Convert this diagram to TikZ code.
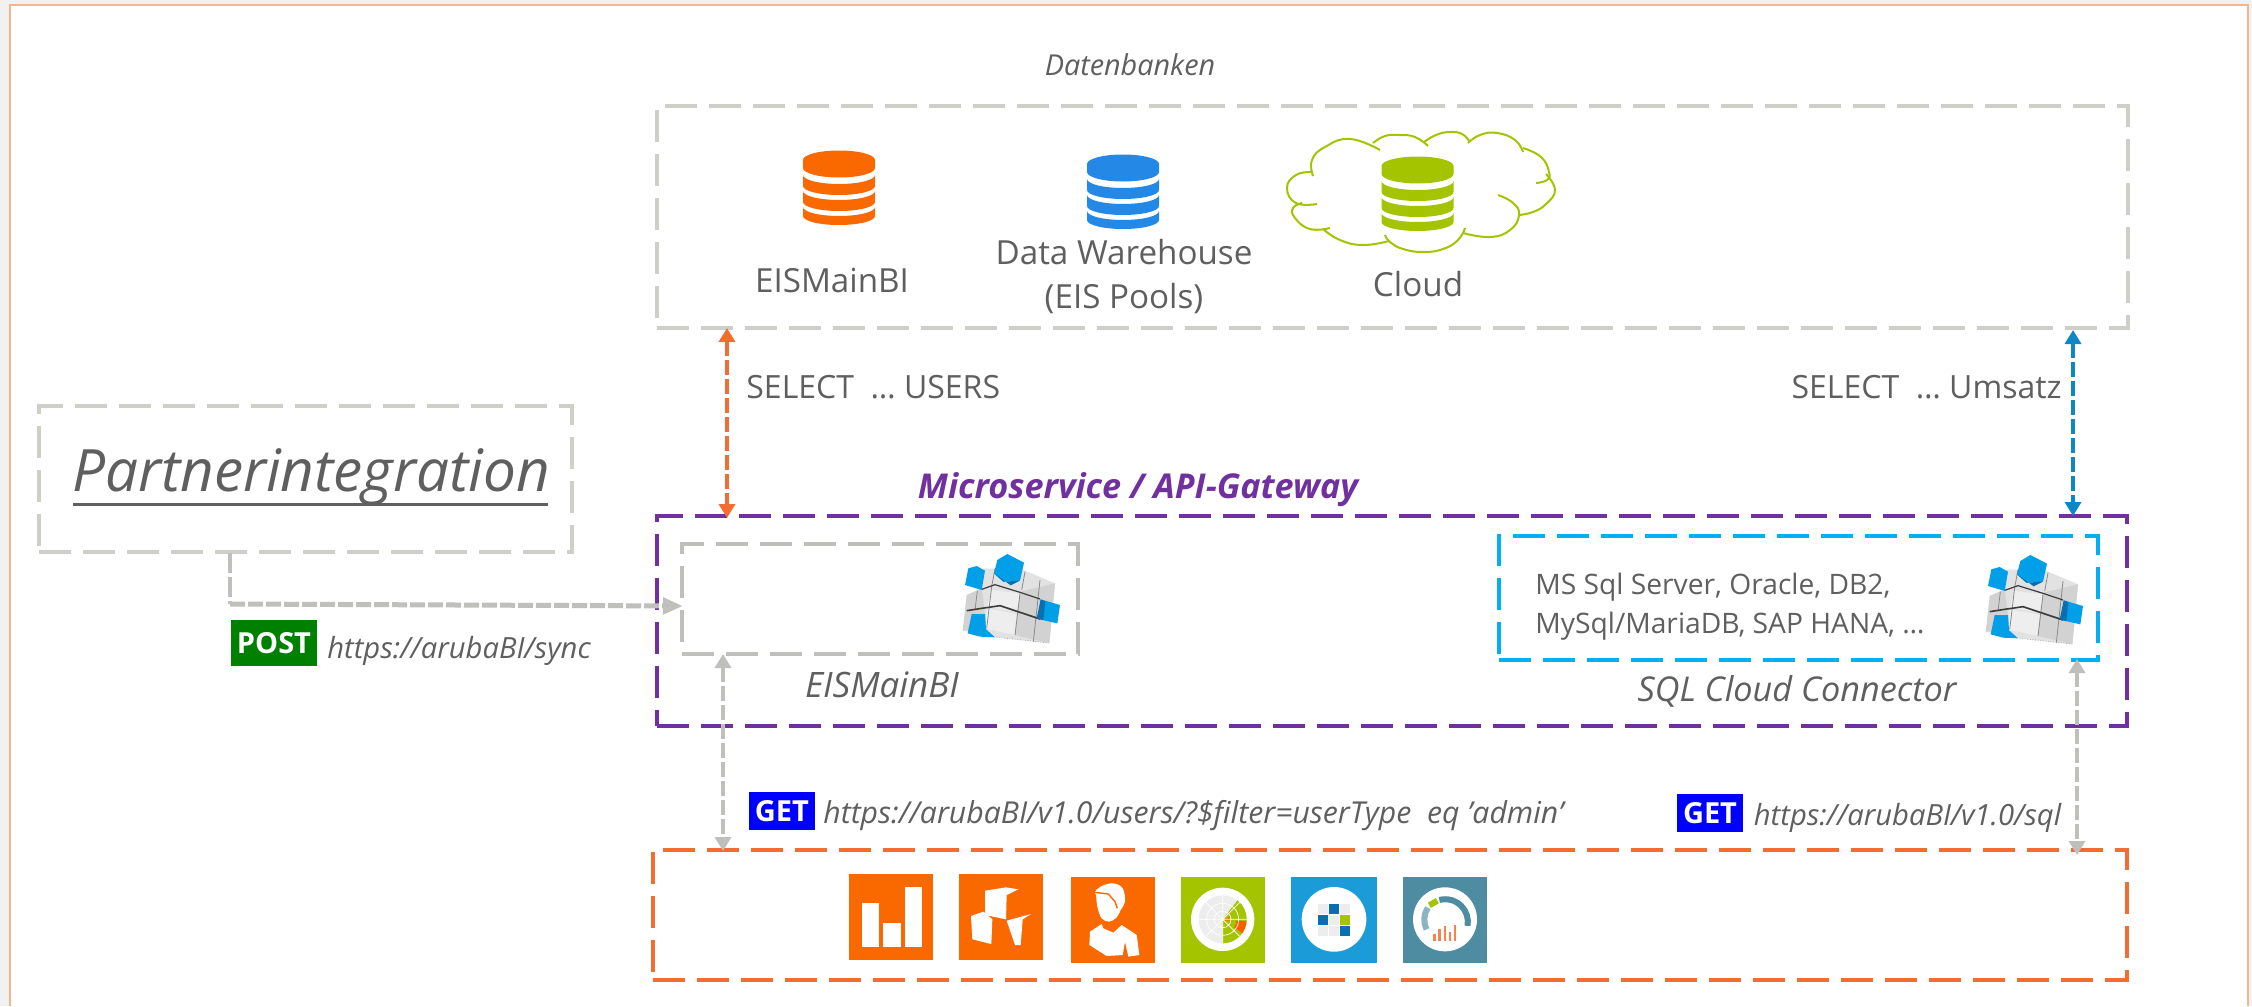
\documentclass[tikz,border=0pt]{standalone}
\usepackage{fontspec}
\setmainfont{Open Sans}
\usetikzlibrary{arrows.meta}
\definecolor{txtgray}{HTML}{5F5F5F}
\definecolor{boxgray}{HTML}{CFCFCA}
\definecolor{midgray}{HTML}{BFBFBC}
\definecolor{purp}{HTML}{7030A0}
\definecolor{cyanb}{HTML}{00B0F0}
\definecolor{orangeb}{HTML}{F36C31}
\definecolor{bluearrow}{HTML}{0F86C6}
\definecolor{tileorange}{HTML}{FA6800}
\definecolor{tilegreen}{HTML}{A4C400}
\definecolor{tileblue}{HTML}{1B9CD9}
\definecolor{tileteal}{HTML}{4E8DA1}
\definecolor{dbblue}{HTML}{2388E6}
\definecolor{cubeblue}{HTML}{009FE8}
\definecolor{cubedark}{HTML}{0A6FB0}
\definecolor{cubegray}{HTML}{E2E2E2}
\definecolor{cubeside}{HTML}{D2D2D2}
\definecolor{cubeline}{HTML}{3C3C3C}
\definecolor{pale}{HTML}{EDEDED}
\definecolor{framec}{HTML}{F8B48A}
\tikzset{
  dashbox/.style={draw, line width=2pt, dash pattern=on 16pt off 6pt, inner sep=0pt},
  graybox/.style={dashbox, draw=boxgray, line width=1.8pt},
  lbl/.style={text=txtgray, inner sep=0pt, font=\fontsize{16.6}{20}\selectfont},
  url/.style={lbl, anchor=west, font=\fontsize{14.6}{18}\selectfont\itshape},
  badge/.style={text=white, inner sep=0pt, font=\fontsize{14.5}{18}\selectfont\bfseries},
  dbl/.style={line width=1.8pt, dash pattern=on 7.5pt off 2pt, {Triangle[length=7pt,width=8pt]}-{Triangle[length=7pt,width=8pt]}},
  zu/.style={x=0.166667pt, y=-0.166667pt},
  tile/.style={inner sep=0pt, minimum width=42pt, minimum height=43pt},
  cubepic/.pic={
    \begin{scope}[zu]
      \fill[cubegray] (190,85)--(310,90)--(405,130)--(388,310)--(230,292)--(128,272)--(140,210)--(140,165)--(185,145)--cycle;
      \fill[cubeside] (300,155)--(405,130)--(388,310)--(285,285)--cycle;
      \fill[cubeside] (128,272)--(140,165)--(185,145)--(200,265)--cycle;
      \fill[cubegray!60!white] (215,150)--(300,160)--(290,215)--(200,200)--cycle;
      \fill[cubegray!60!white] (200,205)--(290,222)--(283,285)--(195,265)--cycle;
      \draw[cubeline!60!white, line width=0.4pt] (215,140)--(200,265) (300,160)--(285,285) (360,120)--(340,305) (172,152)--(165,210) (315,95)--(305,150) (225,85)--(215,140);
      \draw[cubeline, line width=0.8pt] (140,212)--(185,205)--(240,197)--(300,217)--(360,237);
      \draw[cubeline, line width=0.6pt] (185,148)--(225,134)--(300,157)--(360,177);
      \draw[cubeline!60!white, line width=0.3pt, densely dotted] (230,292)--(380,308);
      \fill[cubeblue] (145,85)--(170,78)--(195,92)--(185,150)--(135,135)--cycle;
      \fill[cubeblue] (262,42)--(312,68)--(300,122)--(250,125)--(222,100)--(232,60)--cycle;
      \fill[cubedark] (222,100)--(250,125)--(300,122)--(272,136)--cycle;
      \fill[cubeblue] (362,178)--(420,195)--(412,250)--(358,238)--cycle;
      \fill[cubedark] (362,178)--(376,184)--(370,240)--(350,235)--cycle;
      \fill[cubeblue] (155,222)--(195,222)--(198,268)--(225,292)--(180,290)--(143,280)--cycle;
    \end{scope}
  },
  pics/dbicon/.style={code={
      \fill[#1] (-36,9) arc[x radius=36, y radius=9.5, start angle=180, end angle=360] -- (36,17) arc[x radius=36, y radius=9.5, start angle=0, end angle=180] -- cycle;
      \fill[#1] (-36,24) arc[x radius=36, y radius=9, start angle=180, end angle=0] -- (36,35) arc[x radius=36, y radius=9, start angle=0, end angle=180] -- cycle;
      \fill[#1] (-36,40) arc[x radius=36, y radius=9, start angle=180, end angle=0] -- (36,51) arc[x radius=36, y radius=9, start angle=0, end angle=180] -- cycle;
      \fill[#1] (-36,56) arc[x radius=36, y radius=9, start angle=180, end angle=0] -- (36,65) arc[x radius=36, y radius=9, start angle=0, end angle=180] -- cycle;
  }},
}
\begin{document}
\begin{tikzpicture}[x=0.5pt,y=-0.5pt]
\useasboundingbox (0,0) rectangle (2252,1006);
% page frame
\fill[pale!80!white] (0,0) rectangle (2252,1006);
\fill[white] (10,5) rectangle (2248,1006);
\draw[draw=framec, line width=1.2pt] (10,1006) -- (10,5) -- (2248,5) -- (2248,1006);

% containers
\node[graybox, minimum width=735.5pt, minimum height=111pt] (dbs) at (1392.5,217) {};
\node[graybox, minimum width=266.5pt, minimum height=73pt] (partner) at (305.5,479) {};
\node[dashbox, draw=purp, minimum width=735pt, minimum height=105pt] (ms) at (1392,621) {};
\node[dashbox, draw=midgray, minimum width=198pt, minimum height=55pt] (eis) at (880,599) {};
\node[dashbox, draw=cyanb, minimum width=299.5pt, minimum height=62pt] (sql) at (1798.5,598) {};
\node[dashbox, draw=orangeb, minimum width=737pt, minimum height=65pt] (clients) at (1390,915) {};

% labels
\node[lbl, font=\fontsize{14.4}{17}\selectfont\itshape] (dbtitle) at (1130,65) {Datenbanken};
\node[lbl] (l1) at (832,280) {EISMainBI};
\node[lbl, align=center, font=\fontsize{16.6}{22}\selectfont] (l2) at (1124,277) {Data Warehouse\\(EIS Pools)};
\node[lbl] (l3) at (1418,284) {Cloud};
\node[lbl, anchor=west, font=\fontsize{16}{20}\selectfont] (s1) at (746,387) {SELECT \ … USERS};
\node[lbl, anchor=east, font=\fontsize{16}{20}\selectfont] (s2) at (2062,387) {SELECT \ … Umsatz};
\node[lbl, font=\fontsize{17.1}{20}\selectfont\bfseries\itshape, text=purp] (mstitle) at (1138,490) {Microservice / API-Gateway};
\node[lbl, font=\fontsize{29.2}{34}\selectfont\itshape] (ptext) at (311,477) {Partnerintegration};
\draw[txtgray, line width=1.5pt] (73,504) -- (548,504);
\node[lbl, font=\fontsize{17.5}{20}\selectfont\itshape] (eisl) at (882,685) {EISMainBI};
\node[lbl, font=\fontsize{17.1}{20}\selectfont\itshape] (sqll) at (1797,691) {SQL Cloud Connector};
\node[lbl, anchor=west, align=left, font=\fontsize{14.1}{19.5}\selectfont] (sqlt) at (1535,606.5) {MS Sql Server, Oracle, DB2,\\MySql/MariaDB, SAP HANA, …};

% badges
\node[badge, fill=green!50!black, minimum width=43pt, minimum height=23pt] (post) at (274,643) {POST};
\node[url] (posturl) at (327,651) {https://arubaBI/sync};
\node[badge, fill=blue, minimum width=33pt, minimum height=19pt] (get1) at (782,811) {GET};
\node[url, font=\fontsize{15.1}{18}\selectfont\itshape] (get1url) at (823,816) {https://arubaBI/v1.0/users/?\$filter=userType \ eq 'admin'};
\node[badge, fill=blue, minimum width=33pt, minimum height=19pt] (get2) at (1710,813) {GET};
\node[url] (get2url) at (1753.5,818) {https://arubaBI/v1.0/sql};

% connectors
\coordinate (a1t) at (727,328);
\coordinate (a1b) at (727,518);
\coordinate (a2t) at (2073,330);
\coordinate (a2b) at (2073,516);
\coordinate (a3t) at (723,654);
\coordinate (a3b) at (723,851);
\coordinate (a4t) at (2077,659);
\coordinate (a4b) at (2077,855);
\coordinate (p1) at (230,553);
\coordinate (p2) at (230,604);
\coordinate (p3) at (683,606);
\draw[orangeb, dbl] (a1t) -- (a1b);
\draw[bluearrow, dbl] (a2t) -- (a2b);
\draw[midgray, dbl] (a3t) -- (a3b);
\draw[midgray, dbl] (a4t) -- (a4b);
\draw[midgray, line width=1.8pt, dash pattern=on 10pt off 2pt] (p1) -- (p2);
\draw[midgray, line width=2.5pt, dash pattern=on 7.5pt off 1.5pt, -{Triangle[length=10pt,width=8pt]}] (p2) -- (p3);

% database icons
\pic at (839,151) {dbicon=tileorange};
\pic at (1123,155) {dbicon=dbblue};
\pic at (1417.5,157) {dbicon=tilegreen};

% cloud
\begin{scope}[tilegreen, line width=1pt]
\draw plot[smooth, tension=0.8] coordinates {(1317,204) (1296,203) (1287,188) (1296,175) (1312,172)};
\draw plot[smooth, tension=0.8] coordinates {(1313,176) (1312,160) (1325,147) (1350,139) (1380,150)};
\draw plot[smooth, tension=0.8] coordinates {(1373,143) (1385,136) (1399,135) (1415,137) (1428,146)};
\draw plot[smooth, tension=0.8] coordinates {(1424,142) (1436,135) (1450,132) (1462,134) (1469,141)};
\draw plot[smooth, tension=0.8] coordinates {(1468,143) (1480,135) (1497,133) (1515,140) (1523,152)};
\draw plot[smooth, tension=0.8] coordinates {(1523,148) (1541,157) (1549,172) (1547,180) (1536,183)};
\draw plot[smooth, tension=0.8] coordinates {(1546,174) (1555,190) (1546,204) (1533,212) (1519,215)};
\draw plot[smooth, tension=0.8] coordinates {(1498,195) (1513,203) (1519,215) (1510,230) (1490,237) (1463,233)};
\draw plot[smooth, tension=0.8] coordinates {(1465,228) (1458,240) (1443,249) (1423,252) (1403,249) (1390,242) (1385,235)};
\draw plot[smooth, tension=0.8] coordinates {(1389,241) (1363,245) (1340,240) (1323,229)};
\draw plot[smooth, tension=0.8] coordinates {(1330,228) (1310,229) (1295,218) (1293,208) (1302,203)};
\end{scope}

% cubes
\pic at (920,540) {cubepic};
\pic at (1943,541) {cubepic};

% tiles
\node[tile, fill=tileorange] (t1) at (891,917) {};
\node[tile, fill=tileorange] (t2) at (1001,917) {};
\node[tile, fill=tileorange] (t3) at (1113,920) {};
\node[tile, fill=tilegreen] (t4) at (1223,920) {};
\node[tile, fill=tileblue, minimum width=43pt] (t5) at (1334,920) {};
\node[tile, fill=tileteal] (t6) at (1445,920) {};

\begin{scope}[shift={(830,860)}, zu]
  \fill[white] (95,130) rectangle (148,262);
  \fill[white] (160,188) rectangle (212,262);
  \fill[white] (226,80) rectangle (276,262);
  \fill[white] (465,92)--(528,82)--(565,88)--(530,105)--(528,178)--(465,165)--cycle;
  \fill[white] (423,168)--(460,155)--(487,178)--(484,252)--(427,238)--cycle;
  \fill[white] (530,182)--(603,162)--(578,178)--(572,255)--(555,255)--cycle;
  % person
  \fill[white] plot[smooth cycle, tension=0.6] coordinates {(795,95) (815,78) (850,70) (878,85) (885,125) (872,150) (860,172) (838,185) (815,175) (802,140) (798,105)};
  \draw[tileorange, line width=0.7pt] (795,97)--(835,102)--(855,125)--(862,145);
  \fill[white] (780,215)--(815,192)--(820,205)--(850,218)--(875,195)--(920,225)--(928,285)--(895,290)--(885,245)--(878,285)--(830,288)--(778,255)--cycle;
\end{scope}

\begin{scope}[shift={(1150,860)}, zu]
  % radar: angles run clockwise on screen since y points down
  \fill[white] (218,178) circle[radius=95];
  \fill[pale] (218,178) circle[radius=72];
  \fill[tilegreen] (218,178) -- (218,250) arc[start angle=90, end angle=-52, radius=72] -- cycle;
  \fill[tileorange!90!red] (218,178) ++(35:72) arc[start angle=35, end angle=5, radius=72] -- ++(185:30) arc[start angle=5, end angle=35, radius=42] -- cycle;
  \fill[tileorange] (240,168)--(222,182)--(240,182)--cycle;
  \draw[white, line width=0.35pt] (218,178) circle[radius=25] (218,178) circle[radius=48] (146,178)--(290,178) (218,106)--(218,250) (167,127)--(269,229) (167,229)--(269,127);
  % grid
  \fill[white] (552,178) circle[radius=97];
  \foreach \cx/\cy/\cc in {503/132/pale,536/132/cubedark,569/132/pale,503/165/cubedark,536/165/pale,569/165/tilegreen,503/198/pale,536/198/pale,569/198/cubedark}
    \fill[\cc] (\cx,\cy) rectangle +(31,31);
  % gauge
  \fill[white] (885,178) circle[radius=96];
  \draw[tileteal!65!white, line width=3pt] (830,208) arc[start angle=152, end angle=215, radius=62];
  \draw[tilegreen, line width=3pt] (838,136) -- (862,122);
  \draw[tileteal, line width=3pt] (868,120) arc[start angle=-105, end angle=10, radius=68];
  \foreach \bx/\by in {855/222,870/207,886/198,901/215,916/195}
    \fill[orangeb!85!white] (\bx-5,243) rectangle (\bx+3,\by);
\end{scope}
\end{tikzpicture}
\end{document}
